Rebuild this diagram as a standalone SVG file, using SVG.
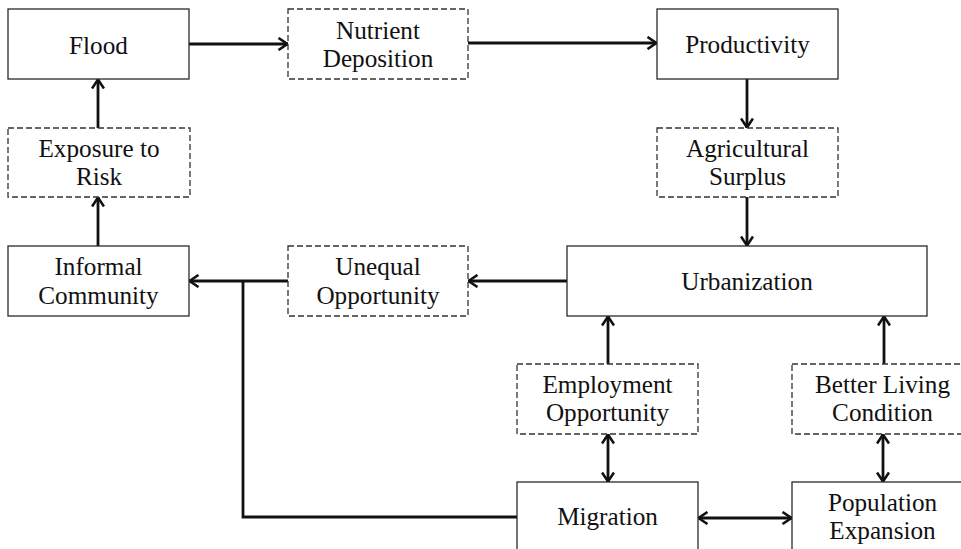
<svg xmlns="http://www.w3.org/2000/svg" width="961" height="549" viewBox="0 0 961 549">
<defs>
<style>
.box{fill:#fff;stroke:#2a2a2a;stroke-width:1.3}
.dbox{fill:#fff;stroke:#333;stroke-width:1.3;stroke-dasharray:6 3}
.t{font-family:"Liberation Serif","Times New Roman",serif;font-size:25.2px;fill:#111;text-anchor:middle}
.c{fill:none;stroke:#111;stroke-width:2.8}
</style>
<marker id="ah" viewBox="0 0 12 14" refX="11" refY="7" markerWidth="12" markerHeight="14" markerUnits="userSpaceOnUse" orient="auto-start-reverse">
<path d="M1.5,1 L10.5,7 L1.5,13" fill="none" stroke="#111" stroke-width="2.6"/>
</marker>
</defs>
<rect width="961" height="549" fill="#fff"/>
<g id="connectors">
<line class="c" x1="189" y1="44" x2="288" y2="44" marker-end="url(#ah)"/>
<line class="c" x1="468" y1="43" x2="657" y2="43" marker-end="url(#ah)"/>
<line class="c" x1="747" y1="79" x2="747" y2="128" marker-end="url(#ah)"/>
<line class="c" x1="747" y1="197" x2="747" y2="246" marker-end="url(#ah)"/>
<line class="c" x1="567" y1="281" x2="468" y2="281" marker-end="url(#ah)"/>
<line class="c" x1="288" y1="281" x2="189" y2="281" marker-end="url(#ah)"/>
<path class="c" d="M517,517 L243,517 L243,281"/>
<line class="c" x1="98" y1="246" x2="98" y2="197" marker-end="url(#ah)"/>
<line class="c" x1="98" y1="128" x2="98" y2="79" marker-end="url(#ah)"/>
<line class="c" x1="608" y1="364" x2="608" y2="316" marker-end="url(#ah)"/>
<line class="c" x1="608" y1="434" x2="608" y2="482" marker-start="url(#ah)" marker-end="url(#ah)"/>
<line class="c" x1="884" y1="364" x2="884" y2="316" marker-end="url(#ah)"/>
<line class="c" x1="883" y1="434" x2="883" y2="482" marker-start="url(#ah)" marker-end="url(#ah)"/>
<line class="c" x1="698" y1="518" x2="792" y2="518" marker-start="url(#ah)" marker-end="url(#ah)"/>
</g>
<g id="flood"><rect class="box" x="8" y="9" width="181" height="70"/><text class="t" x="98.5" y="54">Flood</text></g>
<g id="nutrient"><rect class="dbox" x="288" y="9" width="180" height="70"/><text class="t" x="378" y="39">Nutrient</text><text class="t" x="378" y="67">Deposition</text></g>
<g id="productivity"><rect class="box" x="657" y="9" width="181" height="70"/><text class="t" x="747.5" y="53">Productivity</text></g>
<g id="agricultural"><rect class="dbox" x="657" y="128" width="181" height="69"/><text class="t" x="747.5" y="157">Agricultural</text><text class="t" x="747.5" y="185">Surplus</text></g>
<g id="urbanization"><rect class="box" x="567" y="246" width="360" height="70"/><text class="t" x="747" y="290">Urbanization</text></g>
<g id="unequal"><rect class="dbox" x="288" y="246" width="180" height="70"/><text class="t" x="378" y="275">Unequal</text><text class="t" x="378" y="304">Opportunity</text></g>
<g id="informal"><rect class="box" x="8" y="246" width="181" height="70"/><text class="t" x="98.5" y="275">Informal</text><text class="t" x="98.5" y="304">Community</text></g>
<g id="exposure"><rect class="dbox" x="8" y="128" width="182" height="69"/><text class="t" x="99" y="157">Exposure to</text><text class="t" x="99" y="185">Risk</text></g>
<g id="employment"><rect class="dbox" x="517" y="364" width="181" height="70"/><text class="t" x="607.5" y="393">Employment</text><text class="t" x="607.5" y="421">Opportunity</text></g>
<g id="better"><rect class="dbox" x="792" y="364" width="181" height="70"/><text class="t" x="882.5" y="393">Better Living</text><text class="t" x="882.5" y="421">Condition</text></g>
<g id="migration"><rect class="box" x="517" y="482" width="181" height="70"/><text class="t" x="607.5" y="525">Migration</text></g>
<g id="population"><rect class="box" x="792" y="482" width="181" height="70"/><text class="t" x="882.5" y="511">Population</text><text class="t" x="882.5" y="539">Expansion</text></g>
</svg>
